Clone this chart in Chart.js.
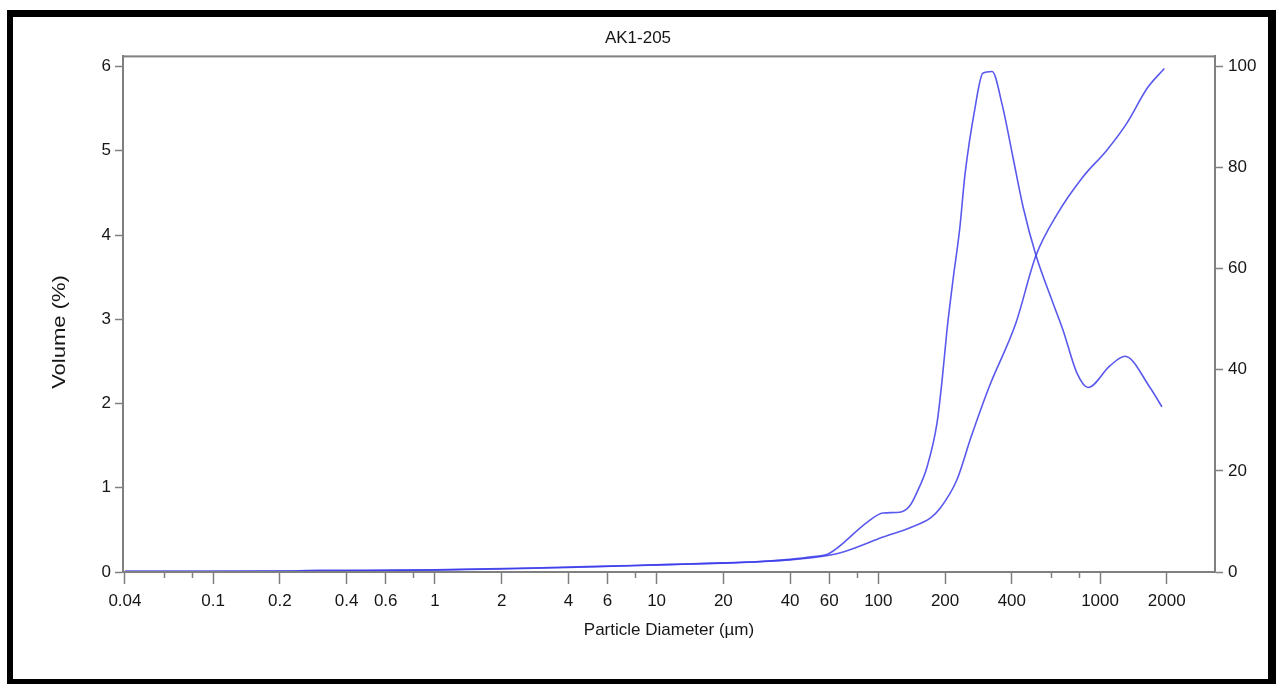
<!DOCTYPE html>
<html>
<head>
<meta charset="utf-8">
<script src="https://cdn.jsdelivr.net/npm/chart.js@4.4.1/dist/chart.umd.min.js"></script>
<style>
  html, body { margin: 0; padding: 0; background: #fff; }
  #wrap { position: relative; width: 1276px; height: 684px; }
  #chart { position: absolute; left: 0; top: 0; }
  #frame {
    position: absolute; left: 7px; top: 10px; width: 1255px; height: 662px;
    border-style: solid; border-color: #000;
    border-width: 7px 8px 6px 6px; pointer-events: none;
  }
</style>
</head>
<body>
<div id="wrap">
  <canvas id="chart" width="1276" height="684"></canvas>
  <div id="frame"></div>
</div>
<script>
// particle size distribution, AK1-205
const volSizes = [0.04, 0.1, 0.2, 0.3, 0.5, 1, 1.5, 3, 6, 10, 20, 30, 40, 50, 60,
  89, 105, 125, 139, 149, 166, 184, 194, 204, 217, 233, 246, 273, 296, 326,
  361, 405, 450, 514, 614, 681, 787, 883, 1110, 1297, 1680, 1902];
const volValues = [0.01, 0.01, 0.01, 0.02, 0.02, 0.025, 0.035, 0.05, 0.07, 0.085, 0.105, 0.125, 0.15, 0.18, 0.22,
  0.59, 0.70, 0.71, 0.79, 0.94, 1.25, 1.77, 2.28, 2.87, 3.46, 4.08, 4.72, 5.51, 5.92, 5.94,
  5.56, 4.92, 4.33, 3.76, 3.19, 2.87, 2.36, 2.19, 2.45, 2.56, 2.19, 1.96];

const cumSizes = [0.04, 0.1, 0.3, 1, 2, 4, 10, 20, 40, 60, 70, 105, 140, 172, 190, 226, 262, 316,
  417, 514, 643, 835, 1071, 1317, 1637, 1950];
const cumValues = [0, 0.05, 0.2, 0.4, 0.6, 0.9, 1.4, 1.8, 2.4, 3.3, 4.0, 6.9, 8.8, 10.7, 12.6, 18.2, 26.7, 36.6,
  49.2, 62.6, 70.9, 78.1, 83.4, 88.7, 95.8, 99.6];

const xMajorTicks = [0.04, 0.1, 0.2, 0.4, 0.6, 1, 2, 4, 6, 10, 20, 40, 60, 100, 200, 400, 1000, 2000];
const xMinorTicks = [0.06, 0.08, 0.8, 8, 80, 600, 800];
const yLeftTicks = [0, 1, 2, 3, 4, 5, 6];
const yRightTicks = [0, 20, 40, 60, 80, 100];

const FONT = "'Liberation Sans', Arial, sans-serif";
const AXIS = '#808080';
const TEXT = '#161616';
const LINE = 'rgba(60, 60, 235, 0.85)';

const toPoints = (xs, ys) => xs.map((x, i) => ({ x: x, y: ys[i] }));

// box around the plot, short minor ticks on the x axis, left axis title
const plotFrame = {
  id: 'plotFrame',
  afterDraw(chart) {
    const { ctx, chartArea: a } = chart;
    const xs = chart.scales.x;
    ctx.save();
    ctx.strokeStyle = AXIS;
    ctx.lineWidth = 2;
    ctx.strokeRect(a.left, a.top, a.right - a.left, a.bottom - a.top);
    ctx.lineWidth = 1.5;
    ctx.beginPath();
    xMinorTicks.forEach(v => {
      const px = Math.round(xs.getPixelForValue(v)) + 0.5;
      ctx.moveTo(px, a.bottom);
      ctx.lineTo(px, a.bottom + 6);
    });
    ctx.stroke();

    // the source image is squeezed sideways, so the rotated title is long but thin
    ctx.translate(60, 332);
    ctx.rotate(-Math.PI / 2);
    ctx.scale(1, 0.8);
    ctx.fillStyle = TEXT;
    ctx.font = '22px ' + FONT;
    ctx.textAlign = 'center';
    ctx.textBaseline = 'middle';
    ctx.fillText('Volume (%)', 0, 0);
    ctx.restore();
  }
};

const tickFont = { family: FONT, size: 17 };

new Chart(document.getElementById('chart').getContext('2d'), {
  type: 'scatter',
  data: {
    datasets: [
      {
        label: 'Volume (%)',
        data: toPoints(volSizes, volValues),
        yAxisID: 'y',
        showLine: true,
        borderColor: LINE,
        borderWidth: 1.6,
        pointRadius: 0,
        cubicInterpolationMode: 'monotone'
      },
      {
        label: 'Cumulative (%)',
        data: toPoints(cumSizes, cumValues),
        yAxisID: 'y2',
        showLine: true,
        borderColor: LINE,
        borderWidth: 1.6,
        pointRadius: 0,
        cubicInterpolationMode: 'monotone'
      }
    ]
  },
  options: {
    responsive: false,
    animation: false,
    layout: { padding: 0 },
    plugins: {
      legend: { display: false },
      tooltip: { enabled: false },
      title: {
        display: true,
        text: 'AK1-205',
        color: TEXT,
        font: { family: FONT, size: 17, weight: 'normal', lineHeight: 1.2 },
        padding: { top: 28, bottom: 8 }
      }
    },
    scales: {
      x: {
        type: 'logarithmic',
        min: 0.0392,
        max: 3300,
        afterFit: s => { s.height = 112; },
        afterBuildTicks: s => { s.ticks = xMajorTicks.map(v => ({ value: v })); },
        ticks: {
          autoSkip: false,
          maxRotation: 0,
          color: TEXT,
          font: tickFont,
          padding: 7,
          callback: v => String(v)
        },
        grid: { drawOnChartArea: false, tickLength: 12, tickColor: AXIS, tickWidth: 1.5 },
        border: { color: AXIS, width: 2 },
        title: {
          display: true,
          text: 'Particle Diameter (µm)',
          color: TEXT,
          font: { family: FONT, size: 17, lineHeight: 1.2 },
          padding: { top: 0, bottom: 43 }
        }
      },
      y: {
        position: 'left',
        min: 0,
        max: 6.12,
        afterFit: s => { s.width = 123; },
        afterBuildTicks: s => { s.ticks = yLeftTicks.map(v => ({ value: v })); },
        ticks: { color: TEXT, font: tickFont, padding: 4 },
        grid: { drawOnChartArea: false, tickLength: 8, tickColor: AXIS, tickWidth: 1.5 },
        border: { color: AXIS, width: 2 }
      },
      y2: {
        position: 'right',
        min: 0,
        max: 102,
        afterFit: s => { s.width = 61; },
        afterBuildTicks: s => { s.ticks = yRightTicks.map(v => ({ value: v })); },
        ticks: { color: TEXT, font: tickFont, padding: 5 },
        grid: { drawOnChartArea: false, tickLength: 8, tickColor: AXIS, tickWidth: 1.5 },
        border: { color: AXIS, width: 2 }
      }
    }
  },
  plugins: [plotFrame]
});
</script>
</body>
</html>
